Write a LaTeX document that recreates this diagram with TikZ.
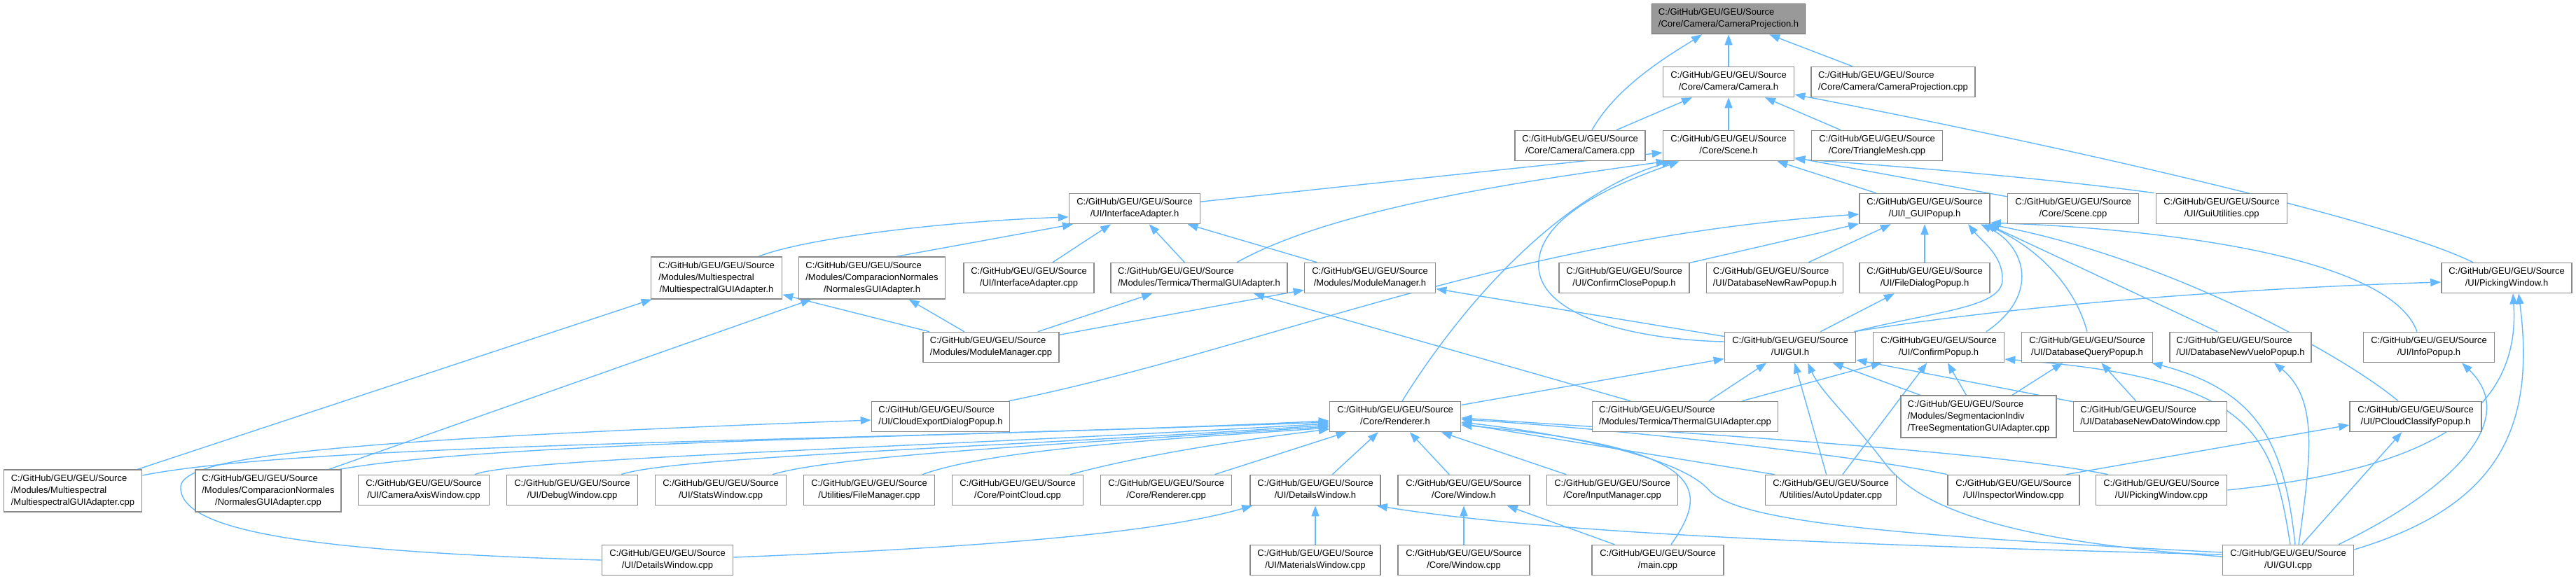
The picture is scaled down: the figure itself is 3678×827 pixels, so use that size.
\documentclass[tikz,border=0pt]{standalone}
\usepackage{fontspec}
\setmainfont{Liberation Sans}
\usetikzlibrary{arrows.meta}
\definecolor{edgec}{HTML}{63B8FF}
\definecolor{boxc}{HTML}{8A8A8A}
\definecolor{mainfill}{HTML}{999999}
\definecolor{mainborder}{HTML}{666666}
\newcommand{\lb}[2]{\begin{tabular}{@{}l@{}}#1\\\multicolumn{1}{@{}c@{}}{#2}\end{tabular}}
\newcommand{\src}[1]{\lb{C:/GitHub/GEU/GEU/Source}{#1}}
\newcommand{\srcm}[2]{\lb{C:/GitHub/GEU/GEU/Source\\#1}{#2}}
\pgfdeclarelayer{bg}
\pgfsetlayers{bg,main}
\tikzset{
  box/.style={draw=boxc, line width=1.6pt, fill=white, inner xsep=5pt, inner ysep=4.8pt,
    minimum height=43pt, font=\fontsize{13}{16.7}\selectfont},
  dep/.style={draw=edgec, line width=1.4pt, -{Triangle[length=15pt,width=11pt]}},
}
\begin{document}
\begin{tikzpicture}[x=1pt,y=1pt]
\begin{pgfonlayer}{bg}
\fill[white] (0,0) rectangle (3678,-827);
\end{pgfonlayer}
\useasboundingbox (0,0) rectangle (3678,-827);
% row 0-2
\node[box,fill=mainfill,draw=mainborder,minimum width=219pt] (cpjh) at (2468,-27) {\src{/Core/Camera/CameraProjection.h}};
\node[box,minimum width=187pt] (camh) at (2468,-117) {\src{/Core/Camera/Camera.h}};
\node[box,minimum width=234pt] (cpjcpp) at (2703,-117) {\src{/Core/Camera/CameraProjection.cpp}};
\node[box,minimum width=186pt] (camcpp) at (2256,-208) {\src{/Core/Camera/Camera.cpp}};
\node[box,minimum width=187pt] (sceneh) at (2468,-208) {\src{/Core/Scene.h}};
\node[box,minimum width=187pt] (tmcpp) at (2680,-208) {\src{/Core/TriangleMesh.cpp}};
% row 3
\node[box,minimum width=187pt] (iah) at (1620,-298) {\src{/UI/InterfaceAdapter.h}};
\node[box,minimum width=186pt] (guipop) at (2748,-298) {\src{/UI/I\_GUIPopup.h}};
\node[box,minimum width=187pt] (scenecpp) at (2960,-298) {\src{/Core/Scene.cpp}};
\node[box,minimum width=187pt] (guiutil) at (3172,-298) {\src{/UI/GuiUtilities.cpp}};
% row 4
\node[box,minimum width=187pt] (multih) at (1023,-397) {\srcm{/Modules/Multiespectral}{/MultiespectralGUIAdapter.h}};
\node[box,minimum width=209pt] (normh) at (1245,-397) {\srcm{/Modules/ComparacionNormales}{/NormalesGUIAdapter.h}};
\node[box,minimum width=186pt] (iacpp) at (1469,-397) {\src{/UI/InterfaceAdapter.cpp}};
\node[box,minimum width=252pt] (thermh) at (1712,-397) {\src{/Modules/Termica/ThermalGUIAdapter.h}};
\node[box,minimum width=187pt] (modmgrh) at (1956,-397) {\src{/Modules/ModuleManager.h}};
\node[box,minimum width=186pt] (confclose) at (2319,-397) {\src{/UI/ConfirmClosePopup.h}};
\node[box,minimum width=195pt] (dbraw) at (2534,-397) {\src{/UI/DatabaseNewRawPopup.h}};
\node[box,minimum width=186pt] (filedlg) at (2748,-397) {\src{/UI/FileDialogPopup.h}};
\node[box,minimum width=186pt] (pickh) at (3579,-397) {\src{/UI/PickingWindow.h}};
% row 5
\node[box,minimum width=194pt] (modmgrcpp) at (1415,-496) {\src{/Modules/ModuleManager.cpp}};
\node[box,minimum width=187pt] (guih) at (2556,-496) {\src{/UI/GUI.h}};
\node[box,minimum width=187pt] (confirm) at (2768,-496) {\src{/UI/ConfirmPopup.h}};
\node[box,minimum width=187pt] (dbquery) at (2980,-496) {\src{/UI/DatabaseQueryPopup.h}};
\node[box,minimum width=202pt] (dbvuelo) at (3199,-496) {\src{/UI/DatabaseNewVueloPopup.h}};
\node[box,minimum width=187pt] (info) at (3468,-496) {\src{/UI/InfoPopup.h}};
% row 6
\node[box,minimum width=197pt] (cloudexp) at (1343,-595) {\src{/UI/CloudExportDialogPopup.h}};
\node[box,minimum width=187pt] (rendh) at (1992,-595) {\src{/Core/Renderer.h}};
\node[box,minimum width=265pt] (thermcpp) at (2406,-595) {\src{/Modules/Termica/ThermalGUIAdapter.cpp}};
\node[box,minimum width=222pt] (treeseg) at (2825,-595) {\srcm{/Modules/SegmentacionIndiv}{/TreeSegmentationGUIAdapter.cpp}};
\node[box,minimum width=219pt] (dbdato) at (3070,-595) {\src{/UI/DatabaseNewDatoWindow.cpp}};
\node[box,minimum width=188pt] (pcloud) at (3449,-595) {\src{/UI/PCloudClassifyPopup.h}};
% row 7
\node[box,minimum width=197pt] (multicpp) at (104,-701) {\srcm{/Modules/Multiespectral}{/MultiespectralGUIAdapter.cpp}};
\node[box,minimum width=208pt] (normcpp) at (383,-701) {\srcm{/Modules/ComparacionNormales}{/NormalesGUIAdapter.cpp}};
\node[box,minimum width=187pt] (camaxis) at (605,-700) {\src{/UI/CameraAxisWindow.cpp}};
\node[box,minimum width=187pt] (debug) at (817,-700) {\src{/UI/DebugWindow.cpp}};
\node[box,minimum width=187pt] (stats) at (1029,-700) {\src{/UI/StatsWindow.cpp}};
\node[box,minimum width=187pt] (filemgr) at (1241,-700) {\src{/Utilities/FileManager.cpp}};
\node[box,minimum width=187pt] (pointcloud) at (1453,-700) {\src{/Core/PointCloud.cpp}};
\node[box,minimum width=187pt] (rendcpp) at (1665,-700) {\src{/Core/Renderer.cpp}};
\node[box,minimum width=186pt] (deth) at (1878,-700) {\src{/UI/DetailsWindow.h}};
\node[box,minimum width=188pt] (winh) at (2090,-700) {\src{/Core/Window.h}};
\node[box,minimum width=187pt] (inputmgr) at (2302,-700) {\src{/Core/InputManager.cpp}};
\node[box,minimum width=187pt] (autoupd) at (2614,-700) {\src{/Utilities/AutoUpdater.cpp}};
\node[box,minimum width=188pt] (inspcpp) at (2875,-700) {\src{/UI/InspectorWindow.cpp}};
\node[box,minimum width=187pt] (pickcpp) at (3086,-700) {\src{/UI/PickingWindow.cpp}};
% row 8
\node[box,minimum width=187pt] (detcpp) at (953,-800) {\src{/UI/DetailsWindow.cpp}};
\node[box,minimum width=186pt] (matcpp) at (1878,-800) {\src{/UI/MaterialsWindow.cpp}};
\node[box,minimum width=188pt] (wincpp) at (2090,-800) {\src{/Core/Window.cpp}};
\node[box,minimum width=188pt] (maincpp) at (2367,-800) {\src{/main.cpp}};
\node[box,minimum width=187pt] (guicpp) at (3267,-800) {\src{/UI/GUI.cpp}};

\begin{pgfonlayer}{bg}
% CameraProjection.h
\draw[dep] (camh) -- (cpjh);
\draw[dep] (cpjcpp) -- (cpjh);
\draw[dep] ([xshift=17pt]camcpp.north) .. controls (2310,-120) and (2390,-75) .. ([xshift=-38pt]cpjh.south);
% Camera.h
\draw[dep] (camcpp) -- (camh);
\draw[dep] (sceneh) -- (camh);
\draw[dep] (tmcpp) -- (camh);
\draw[dep] ([xshift=-48pt]pickh.north) .. controls (3400,-310) and (2900,-200) .. ([yshift=-18pt]camh.east);
% Scene.h
\draw[dep] (iah) -- (sceneh);
\draw[dep] ([xshift=54pt]thermh.north) .. controls (1900,-300) and (2150,-262) .. ([xshift=6pt]sceneh.south west);
\draw[dep] ([xshift=10pt]rendh.north) .. controls (2110,-400) and (2250,-270) .. ([xshift=14pt]sceneh.south west);
\draw[dep] ([yshift=8pt]guih.west) .. controls (2330,-485) and (2190,-450) .. (2197,-373) .. controls (2203,-300) and (2330,-255) .. ([xshift=24pt]sceneh.south west);
\draw[dep] (guipop) -- (sceneh);
\draw[dep] (scenecpp) -- (sceneh);
\draw[dep] ([xshift=-2pt]guiutil.north west) .. controls (2950,-258) and (2750,-240) .. ([yshift=-19pt]sceneh.east);
% InterfaceAdapter.h
\draw[dep] ([xshift=60pt]multih.north) .. controls (1150,-340) and (1350,-316) .. ([yshift=-12pt]iah.west);
\draw[dep] ([xshift=35pt]normh.north) -- ([xshift=-88pt]iah.south);
\draw[dep] (iacpp) -- (iah);
\draw[dep] (thermh) -- (iah);
\draw[dep] (modmgrh) -- (iah);
% row 4 targets
\draw[dep] (multicpp) -- (multih);
\draw[dep] (modmgrcpp) -- (multih);
\draw[dep] (normcpp) -- (normh);
\draw[dep] (modmgrcpp) -- (normh);
\draw[dep] (modmgrcpp) -- (thermh);
\draw[dep] (thermcpp) -- (thermh);
\draw[dep] (modmgrcpp) -- (modmgrh);
\draw[dep] (guih) -- (modmgrh);
% I_GUIPopup.h
\draw[dep] ([xshift=-2pt]cloudexp.north east) .. controls (1800,-500) and (2150,-340) .. ([yshift=-8pt]guipop.west);
\draw[dep] (confclose) -- (guipop);
\draw[dep] (dbraw) -- (guipop);
\draw[dep] (filedlg) -- (guipop);
\draw[dep] ([xshift=-3pt]guih.north east) .. controls (2760,-445) and (2858,-440) .. (2859,-400) .. controls (2860,-365) and (2830,-345) .. ([xshift=62pt]guipop.south);
\draw[dep] ([xshift=68pt]confirm.north) .. controls (2915,-420) and (2890,-350) .. ([xshift=80pt]guipop.south);
\draw[dep] (dbquery.north) .. controls (2960,-400) and (2900,-350) .. ([xshift=86pt]guipop.south);
\draw[dep] ([xshift=-33pt]dbvuelo.north) -- ([xshift=90pt]guipop.south);
\draw[dep] ([xshift=-25pt]pcloud.north) .. controls (3350,-510) and (3100,-370) .. ([xshift=-2pt]guipop.south east);
\draw[dep] ([xshift=-17pt]info.north) .. controls (3410,-360) and (3050,-325) .. ([yshift=2pt]guipop.south east);
% FileDialogPopup.h
\draw[dep] (guih) -- (filedlg);
% PickingWindow.h
\draw[dep] ([xshift=-3pt]guih.north east) .. controls (2900,-432) and (3250,-410) .. ([yshift=-6pt]pickh.west);
\draw[dep] ([yshift=15pt]guicpp.east) .. controls (3560,-725) and (3622,-620) .. ([xshift=17pt]pickh.south);
\draw[dep] (pickcpp.east) .. controls (3450,-672) and (3600,-600) .. ([xshift=9pt]pickh.south);
% GUI.h
\draw[dep] (rendh) -- (guih);
\draw[dep] (thermcpp) -- (guih);
\draw[dep] (autoupd) -- (guih);
\draw[dep] ([yshift=5pt]guicpp.west) .. controls (2900,-775) and (2745,-735) .. (2690,-660) .. controls (2640,-595) and (2600,-560) .. ([xshift=25pt]guih.south);
\draw[dep] (treeseg) -- (guih);
\draw[dep] (dbdato) -- (guih);
% ConfirmPopup.h
\draw[dep] (thermcpp) -- (confirm);
\draw[dep] (autoupd) -- (confirm);
\draw[dep] (treeseg) -- (confirm);
\draw[dep] ([xshift=3pt]guicpp.north) .. controls (3245,-620) and (3220,-540) .. ([yshift=-17pt]confirm.east);
% DatabaseQueryPopup.h
\draw[dep] (treeseg) -- (dbquery);
\draw[dep] (dbdato) -- (dbquery);
\draw[dep] ([xshift=10pt]guicpp.north) .. controls (3262,-640) and (3230,-560) .. ([xshift=-2pt]dbquery.south east);
% DatabaseNewVueloPopup.h
\draw[dep] ([xshift=15pt]guicpp.north) .. controls (3300,-650) and (3310,-570) .. ([xshift=48pt]dbvuelo.south);
% InfoPopup.h
\draw[dep] ([xshift=72pt]guicpp.north) .. controls (3500,-700) and (3600,-600) .. ([xshift=47pt]info.south);
% PCloudClassifyPopup.h
\draw[dep] (guicpp) -- (pcloud);
\draw[dep] ([xshift=75pt]inspcpp.north) -- ([yshift=-12pt]pcloud.west);
% CloudExportDialogPopup.h
\draw[dep] (detcpp.west) .. controls (450,-788) and (255,-760) .. (258,-695) .. controls (261,-650) and (500,-628) .. ([yshift=-5pt]cloudexp.west);
% DetailsWindow.h
\draw[dep] ([yshift=4pt]detcpp.east) .. controls (1400,-782) and (1650,-762) .. ([xshift=4pt]deth.south west);
\draw[dep] (matcpp) -- (deth);
\draw[dep] ([yshift=8pt]guicpp.west) .. controls (2600,-778) and (2200,-760) .. ([xshift=-6pt]deth.south east);
% Window.h
\draw[dep] (wincpp) -- (winh);
\draw[dep] (maincpp) -- (winh);
% Renderer.h
\draw[dep] ([yshift=22pt]multicpp.east) .. controls (450,-630) and (1300,-630) .. ([yshift=-6pt]rendh.west);
\draw[dep] ([xshift=-3pt]normcpp.north east) .. controls (700,-632) and (1300,-625) .. ([yshift=-8pt]rendh.west);
\draw[dep] ([xshift=73pt]camaxis.north) .. controls (730,-655) and (1300,-640) .. ([yshift=-10pt]rendh.west);
\draw[dep] ([xshift=70pt]debug.north) .. controls (960,-652) and (1450,-638) .. ([yshift=-12pt]rendh.west);
\draw[dep] ([xshift=74pt]stats.north) .. controls (1200,-648) and (1600,-630) .. ([yshift=-14pt]rendh.west);
\draw[dep] ([xshift=76pt]filemgr.north) .. controls (1420,-640) and (1700,-625) .. ([yshift=-16pt]rendh.west);
\draw[dep] ([xshift=75pt]pointcloud.north) .. controls (1650,-645) and (1800,-625) .. ([yshift=-18pt]rendh.west);
\draw[dep] (rendcpp) -- (rendh);
\draw[dep] (deth) -- (rendh);
\draw[dep] (winh) -- (rendh);
\draw[dep] (inputmgr) -- (rendh);
\draw[dep] ([xshift=14pt]autoupd.north west) -- ([yshift=-10pt]rendh.east);
\draw[dep] (inspcpp.north west) .. controls (2650,-650) and (2300,-612) .. ([yshift=-4pt]rendh.east);
\draw[dep] ([xshift=18pt]pickcpp.north west) .. controls (2850,-645) and (2400,-618) .. ([yshift=-2pt]rendh.east);
\draw[dep] ([yshift=11pt]guicpp.west) .. controls (2700,-765) and (2480,-745) .. (2440,-700) .. controls (2400,-655) and (2250,-622) .. ([yshift=-8pt]rendh.east);
\draw[dep] ([xshift=19pt]maincpp.north) .. controls (2440,-700) and (2445,-640) .. ([yshift=-12pt]rendh.east);
\end{pgfonlayer}
\end{tikzpicture}
\end{document}
